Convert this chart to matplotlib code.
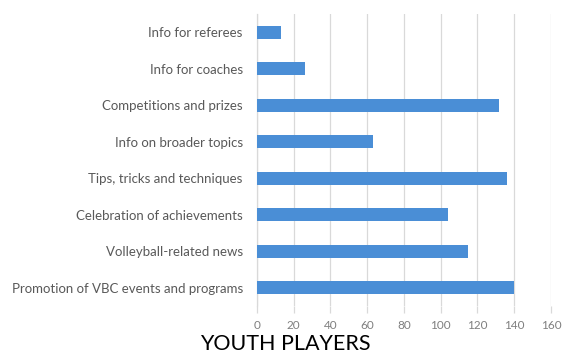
import matplotlib.pyplot as plt

# survey answers, bottom to top as drawn
topics = [
    "Promotion of VBC events and programs",
    "Volleyball-related news",
    "Celebration of achievements",
    "Tips, tricks and techniques",
    "Info on broader topics",
    "Competitions and prizes",
    "Info for coaches",
    "Info for referees",
]
counts = [140, 115, 104, 136, 63, 132, 26, 13]
xticks = [0, 20, 40, 60, 80, 100, 120, 140, 160]

BAR = "#4a8ed6"
GRID = "#d9d9d9"
TXT = "#595959"

plt.rcParams["font.family"] = ["Lato", "DejaVu Sans"]

fig = plt.figure(figsize=(5.62, 3.62), dpi=100)
ax = fig.add_axes([0.4568, 0.1547, 0.5236, 0.8066])

ax.barh(range(len(topics)), counts, height=0.35, color=BAR, zorder=3)

ax.set_xlim(0, 160)
ax.set_ylim(-0.5, len(topics) - 0.5)
ax.set_xticks(xticks)
ax.set_yticks(range(len(topics)))
ax.set_yticklabels(topics)
ax.xaxis.grid(True, color=GRID, lw=0.9, zorder=0)

for s in ("top", "right", "bottom"):
    ax.spines[s].set_visible(False)
ax.spines["left"].set_color(GRID)
ax.spines["left"].set_linewidth(0.9)

ax.tick_params(axis="y", length=0, labelsize=9.5, labelcolor=TXT, pad=10)
ax.tick_params(axis="x", length=5, color=GRID, width=0.9,
               labelsize=8.5, labelcolor="#7f7f7f", pad=5)

fig.text(0.508, 0.034, "YOUTH PLAYERS", ha="center", va="baseline",
         fontsize=15.5, color="#000000")

fig.savefig("out.png", dpi=100)
